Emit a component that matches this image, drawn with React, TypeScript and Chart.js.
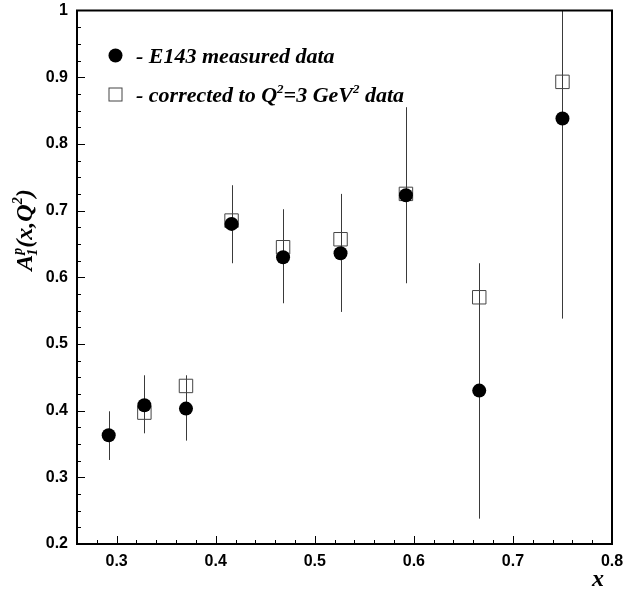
import React, { useEffect, useRef } from "react";
import { Chart, registerables } from "chart.js";

Chart.register(...registerables);

// ---- data ----
const xValues = [0.292, 0.328, 0.370, 0.416, 0.468, 0.526, 0.592, 0.666, 0.750];
const measured = [0.363, 0.408, 0.403, 0.680, 0.630, 0.636, 0.723, 0.430, 0.838];
const corrected = [null, 0.397, 0.437, 0.685, 0.645, 0.657, 0.725, 0.570, 0.893];
const errLow = [0.326, 0.366, 0.355, 0.621, 0.561, 0.548, 0.591, 0.238, 0.538];
const errHigh = [0.399, 0.453, 0.453, 0.738, 0.702, 0.725, 0.855, 0.621, 1.05];

const xTickValues = [0.3, 0.4, 0.5, 0.6, 0.7, 0.8];
const xTickLabels = ["0.3", "0.4", "0.5", "0.6", "0.7", "0.8"];
const yTickValues = [0.2, 0.3, 0.4, 0.5, 0.6, 0.7, 0.8, 0.9, 1.0];
const yTickLabels = ["0.2", "0.3", "0.4", "0.5", "0.6", "0.7", "0.8", "0.9", "1"];

const legendLabel1 = "- E143 measured data";
const serif = '"Liberation Serif", "DejaVu Serif", serif';
const sans = '"Liberation Sans", Arial, sans-serif';

const decorPlugin = {
  id: "decor",
  beforeDatasetsDraw(chart: any) {
    const { ctx, chartArea: a, scales } = chart;
    const xs = scales.x, ys = scales.y;
    ctx.save();
    ctx.beginPath();
    ctx.rect(a.left, a.top, a.right - a.left, a.bottom - a.top);
    ctx.clip();
    ctx.strokeStyle = "#3a3a3a";
    ctx.lineWidth = 1;
    for (let i = 0; i < xValues.length; i++) {
      const px = Math.round(xs.getPixelForValue(xValues[i])) + 0.5;
      ctx.beginPath();
      ctx.moveTo(px, ys.getPixelForValue(errLow[i]));
      ctx.lineTo(px, ys.getPixelForValue(errHigh[i]));
      ctx.stroke();
    }
    ctx.restore();
  },
  afterDraw(chart: any) {
    const { ctx, chartArea: a, scales } = chart;
    const xs = scales.x, ys = scales.y;
    ctx.save();
    // frame
    ctx.strokeStyle = "#000";
    ctx.lineWidth = 2;
    ctx.strokeRect(a.left, a.top, a.right - a.left, a.bottom - a.top);
    // inner ticks
    ctx.lineWidth = 1;
    ctx.beginPath();
    for (let v = 0.26; v <= 0.8001; v += 0.02) {
      const major = xTickValues.some((t) => Math.abs(t - v) < 1e-6);
      const px = Math.round(xs.getPixelForValue(v)) + 0.5;
      const len = major ? 8 : 4;
      ctx.moveTo(px, a.bottom);
      ctx.lineTo(px, a.bottom - len);
    }
    for (let v = 0.2; v <= 1.0001; v += 0.025) {
      const major = yTickValues.some((t) => Math.abs(t - v) < 1e-6);
      const py = Math.round(ys.getPixelForValue(v)) + 0.5;
      const len = major ? 8 : 4;
      ctx.moveTo(a.left, py);
      ctx.lineTo(a.left + len, py);
    }
    ctx.stroke();

    // legend
    const lx = a.left + 38.5;
    ctx.fillStyle = "#000";
    ctx.beginPath();
    ctx.arc(lx, a.top + 45, 7, 0, Math.PI * 2);
    ctx.fill();
    ctx.strokeStyle = "#444";
    ctx.lineWidth = 1;
    ctx.strokeRect(lx - 6.5, a.top + 84 - 6.5, 13, 13);

    const tx = a.left + 59;
    ctx.textBaseline = "alphabetic";
    ctx.textAlign = "left";
    const big = `italic bold 22px ${serif}`;
    const small = `italic bold 13px ${serif}`;
    ctx.font = big;
    ctx.fillText(legendLabel1, tx, a.top + 52);
    const parts: [string, boolean][] = [
      ["- corrected to Q", false],
      ["2", true],
      ["=3 GeV", false],
      ["2", true],
      [" data", false],
    ];
    let cx = tx;
    const by = a.top + 91;
    for (const [s, sup] of parts) {
      ctx.font = sup ? small : big;
      ctx.fillText(s, cx, sup ? by - 9 : by);
      cx += ctx.measureText(s).width;
    }

    // x title
    ctx.font = `italic bold 24px ${serif}`;
    ctx.textAlign = "center";
    ctx.fillText("x", 598, 586);

    // y title, rotated
    ctx.translate(32, 230);
    ctx.rotate(-Math.PI / 2);
    const fN = `italic bold 24px ${serif}`;
    const fS = `italic bold 14px ${serif}`;
    const items: [string, string][] = [
      ["A", fN],
      ["1", fS],
      ["p", fS],
      ["(x,Q", fN],
      ["2", fS],
      [")", fN],
    ];
    const widths = items.map(([s, f]) => {
      ctx.font = f;
      return ctx.measureText(s).width;
    });
    const total = widths[0] + Math.max(widths[1], widths[2]) + widths[3] + widths[4] + widths[5];
    let px = -total / 2;
    ctx.textAlign = "left";
    ctx.font = fN;
    ctx.fillText("A", px, 0);
    px += widths[0];
    ctx.font = fS;
    ctx.fillText("1", px - 1, 5);
    ctx.fillText("p", px, -10);
    px += Math.max(widths[1], widths[2]);
    ctx.font = fN;
    ctx.fillText("(x,Q", px, 0);
    px += widths[3];
    ctx.font = fS;
    ctx.fillText("2", px, -10);
    px += widths[4];
    ctx.font = fN;
    ctx.fillText(")", px, 0);
    ctx.restore();
  },
};

export default function App() {
  const ref = useRef<HTMLCanvasElement | null>(null);
  useEffect(() => {
    document.body.style.margin = "0";
    const canvas = ref.current;
    if (!canvas) return;
    const chart = new Chart(canvas, {
      type: "scatter",
      data: {
        datasets: [
          {
            label: "E143 measured data",
            data: xValues.map((x, i) => ({ x, y: measured[i] })),
            pointStyle: "circle",
            pointRadius: 7,
            pointBackgroundColor: "#000",
            pointBorderColor: "#000",
            pointBorderWidth: 0,
            showLine: false,
          },
          {
            label: "corrected to Q2=3 GeV2 data",
            data: xValues.map((x, i) => ({ x, y: corrected[i] })),
            pointStyle: "rect",
            pointRadius: 9.5,
            pointBackgroundColor: "rgba(0,0,0,0)",
            pointBorderColor: "#444",
            pointBorderWidth: 1,
            showLine: false,
          },
        ],
      },
      options: {
        animation: false,
        responsive: true,
        maintainAspectRatio: false,
        layout: { padding: { top: 7, right: 11, left: 0, bottom: 0 } },
        plugins: { legend: { display: false }, tooltip: { enabled: false } },
        scales: {
          x: {
            type: "linear",
            min: 0.26,
            max: 0.8,
            grid: { display: false, drawTicks: false, tickLength: 0 },
            border: { display: false },
            afterBuildTicks: (s: any) => {
              s.ticks = xTickValues.map((value) => ({ value }));
            },
            afterFit: (s: any) => {
              s.height = 49;
              s.paddingLeft = 0;
              s.paddingRight = 0;
            },
            ticks: {
              padding: 8,
              maxRotation: 0,
              autoSkip: false,
              color: "#000",
              font: { family: sans, size: 16, weight: "bold" },
              callback: (v: any) => {
                const i = xTickValues.findIndex((t) => Math.abs(t - Number(v)) < 1e-6);
                return i >= 0 ? xTickLabels[i] : "";
              },
            },
          },
          y: {
            type: "linear",
            min: 0.2,
            max: 1,
            grid: { display: false, drawTicks: false, tickLength: 0 },
            border: { display: false },
            afterBuildTicks: (s: any) => {
              s.ticks = yTickValues.map((value) => ({ value }));
            },
            afterFit: (s: any) => {
              s.width = 77;
              s.paddingTop = 0;
              s.paddingBottom = 0;
            },
            ticks: {
              padding: 9,
              autoSkip: false,
              color: "#000",
              font: { family: sans, size: 16, weight: "bold" },
              callback: (v: any) => {
                const i = yTickValues.findIndex((t) => Math.abs(t - Number(v)) < 1e-6);
                return i >= 0 ? yTickLabels[i] : "";
              },
            },
          },
        },
      },
      plugins: [decorPlugin],
    });
    return () => chart.destroy();
  }, []);
  return (
    <div style={{ width: 623, height: 593, position: "relative", background: "#fff" }}>
      <canvas ref={ref} />
    </div>
  );
}
